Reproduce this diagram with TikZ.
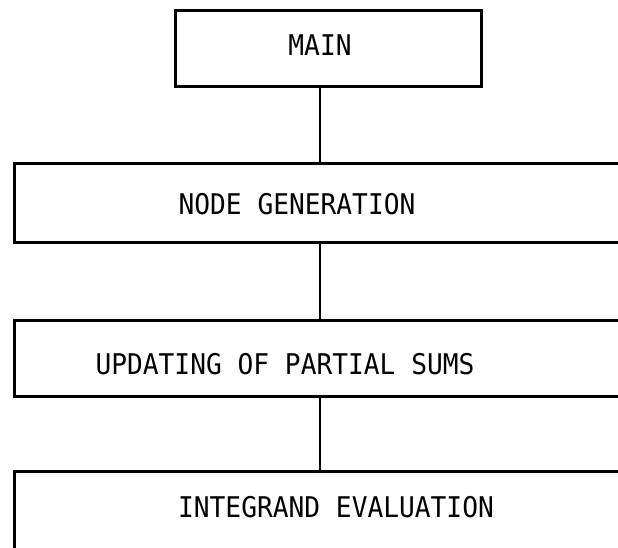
\documentclass[tikz,border=0pt]{standalone}
\usepackage{fontspec}
\setmonofont[FakeStretch=0.92]{DejaVu Sans Mono}
\begin{document}
\begin{tikzpicture}[x=1pt,y=-1pt,
  box/.style={draw, line width=2.8pt, inner sep=0pt, anchor=north west},
  lbl/.style={font=\ttfamily\fontsize{28.5}{32}\selectfont, inner sep=0pt},
  link/.style={line width=2.8pt}]
\useasboundingbox (0,0) rectangle (618,548);
\clip (0,0) rectangle (618,548);
\node[box, minimum width=306pt, minimum height=76pt] (main) at (174,9) {};
\node[box, minimum width=640pt, minimum height=79pt] (nodegen) at (13,162) {};
\node[box, minimum width=640pt, minimum height=76pt] (updating) at (13,319) {};
\node[box, minimum width=640pt, minimum height=100pt] (integrand) at (13,470) {};
\node[lbl] (mainlbl) at (320,45) {MAIN};
\node[lbl] (nodegenlbl) at (297,204) {NODE GENERATION};
\node[lbl] (updatinglbl) at (285,364) {UPDATING OF PARTIAL SUMS};
\node[lbl] (integrandlbl) at (336,507) {INTEGRAND EVALUATION};
\coordinate (spine) at (320,0);
\draw[link] (main.south -| spine) -- (nodegen.north -| spine);
\draw[link] (nodegen.south -| spine) -- (updating.north -| spine);
\draw[link] (updating.south -| spine) -- (integrand.north -| spine);
\end{tikzpicture}
\end{document}
